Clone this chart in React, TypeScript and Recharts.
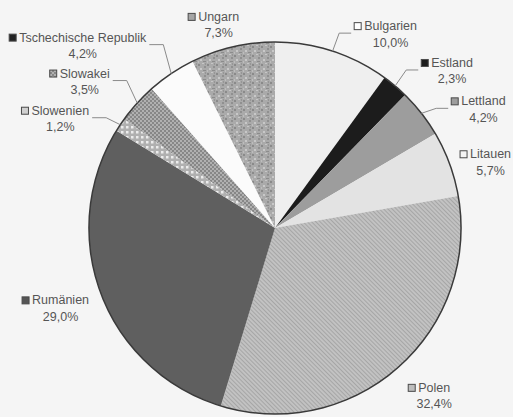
import React from "react";
import { PieChart, Pie, Cell } from "recharts";

const countries = [
  "Bulgarien",
  "Estland",
  "Lettland",
  "Litauen",
  "Polen",
  "Rumänien",
  "Slowenien",
  "Slowakei",
  "Tschechische Republik",
  "Ungarn",
];
const shares = [10.0, 2.3, 4.2, 5.7, 32.4, 29.0, 1.2, 3.5, 4.2, 7.3];

// styles (not data)
const sliceFills = [
  "#efefef",
  "#1c1c1c",
  "#9d9d9d",
  "#e3e3e3",
  "url(#hatchPolen)",
  "#5f5f5f",
  "url(#dotsSlowenien)",
  "url(#hexSlowakei)",
  "#fbfbfb",
  "url(#speckUngarn)",
];
const markerFills = [
  "#ffffff",
  "#1c1c1c",
  "#9d9d9d",
  "#f4f4f4",
  "#bdbdbd",
  "#555555",
  "#d0d0d0",
  "url(#hexSlowakei)",
  "#222222",
  "#a5a5a5",
];
// label layout: name-line centre relative to the slice's outer-edge midpoint
const labelOffsets: [number, number][] = [
  [58, -25],
  [57, -23],
  [62, -12],
  [41, -9.5],
  [36, 20.5],
  [-40.5, 6.5],
  [-60, -14],
  [-52.5, -29.5],
  [-88.5, -36],
  [-14, -30],
];
const showLeader = [true, true, true, false, false, false, true, true, true, false];

const FONT_SIZE = 12.5;
const FONT_FAMILY = "'Liberation Sans', Arial, sans-serif";

let ctx: CanvasRenderingContext2D | null = null;
function textWidth(s: string): number {
  try {
    if (!ctx) ctx = document.createElement("canvas").getContext("2d");
    if (ctx) {
      ctx.font = `${FONT_SIZE}px 'Liberation Sans'`;
      return ctx.measureText(s).width;
    }
  } catch (e) {}
  return s.length * FONT_SIZE * 0.52;
}

const data = countries.map((name, i) => ({ name, value: shares[i] }));
const ringData = [{ name: "ring", value: 1 }];

const RADIAN = Math.PI / 180;

function renderLabel(props: any) {
  const { cx, cy, midAngle, outerRadius, index } = props;
  const ex = cx + outerRadius * Math.cos(-midAngle * RADIAN);
  const ey = cy + outerRadius * Math.sin(-midAngle * RADIAN);
  const [dx, dy] = labelOffsets[index];
  const nx = ex + dx;
  const ny = ey + dy;
  const name = countries[index];
  const w = textWidth(name);
  const left = nx - w / 2;
  const markerX = left - 10;
  const pct = shares[index].toFixed(1).replace(".", ",") + "%";
  let leader: React.ReactNode = null;
  if (showLeader[index]) {
    const rightSide = nx > cx;
    const endX = rightSide ? markerX - 3 : left + w + 3;
    const endY = ny + 7;
    const bendX = rightSide ? endX - 12 : endX + 14;
    leader = (
      <polyline
        points={`${ex},${ey} ${bendX},${endY} ${endX},${endY}`}
        fill="none"
        stroke="#8a8a8a"
        strokeWidth={1}
      />
    );
  }
  return (
    <g key={`lbl-${index}`}>
      {leader}
      <rect
        x={markerX}
        y={ny - 3.5}
        width={7}
        height={7}
        fill={markerFills[index]}
        stroke="#4a4a4a"
        strokeWidth={1}
      />
      <text
        x={left}
        y={ny}
        dominantBaseline="central"
        textAnchor="start"
        fontSize={FONT_SIZE}
        fontFamily={FONT_FAMILY}
        fill="#555555"
      >
        {name}
      </text>
      <text
        x={nx}
        y={ny + 16.5}
        dominantBaseline="central"
        textAnchor="middle"
        fontSize={FONT_SIZE}
        fontFamily={FONT_FAMILY}
        fill="#555555"
      >
        {pct}
      </text>
    </g>
  );
}

export default function App() {
  return (
    <div
      style={{
        position: "absolute",
        left: 0,
        top: 0,
        width: 513,
        height: 417,
        background: "#f5f5f5",
      }}
    >
      <PieChart width={513} height={417} margin={{ top: 0, right: 0, bottom: 0, left: 0 }}>
        <defs>
          <pattern id="hatchPolen" width="3" height="3" patternUnits="userSpaceOnUse" patternTransform="rotate(-45)">
            <rect width="3" height="3" fill="#c2c2c2" />
            <rect width="1" height="3" fill="#a6a6a6" />
          </pattern>
          <pattern id="dotsSlowenien" width="5" height="5" patternUnits="userSpaceOnUse">
            <rect width="5" height="5" fill="#b0b0b0" />
            <rect x="1" y="1" width="2.5" height="2.5" fill="#ececec" />
          </pattern>
          <pattern id="hexSlowakei" width="4" height="4" patternUnits="userSpaceOnUse">
            <rect width="4" height="4" fill="#878787" />
            <circle cx="1" cy="1" r="0.9" fill="#c4c4c4" />
            <circle cx="3" cy="3" r="0.9" fill="#c4c4c4" />
          </pattern>
          <pattern id="speckUngarn" width="9" height="9" patternUnits="userSpaceOnUse">
            <rect width="9" height="9" fill="#aaaaaa" />
            <rect x="0" y="1" width="2" height="2" fill="#8a8a8a" />
            <rect x="4" y="0" width="2" height="1" fill="#c6c6c6" />
            <rect x="6" y="3" width="2" height="2" fill="#909090" />
            <rect x="2" y="5" width="2" height="2" fill="#c8c8c8" />
            <rect x="5" y="7" width="3" height="1" fill="#8c8c8c" />
            <rect x="0" y="7" width="1" height="2" fill="#bdbdbd" />
            <rect x="7" y="0" width="1" height="2" fill="#969696" />
          </pattern>
        </defs>
        <Pie
          data={data}
          dataKey="value"
          nameKey="name"
          cx={275}
          cy={228}
          outerRadius={186}
          startAngle={90}
          endAngle={-270}
          stroke="none"
          isAnimationActive={false}
          label={renderLabel}
          labelLine={false}
        >
          {data.map((d, i) => (
            <Cell key={d.name} fill={sliceFills[i]} />
          ))}
        </Pie>
        <Pie
          data={ringData}
          dataKey="value"
          cx={275}
          cy={228}
          innerRadius={185.3}
          outerRadius={186.8}
          startAngle={90}
          endAngle={-270}
          fill="#3a3a3a"
          stroke="none"
          isAnimationActive={false}
          label={false}
          labelLine={false}
        />
      </PieChart>
    </div>
  );
}
